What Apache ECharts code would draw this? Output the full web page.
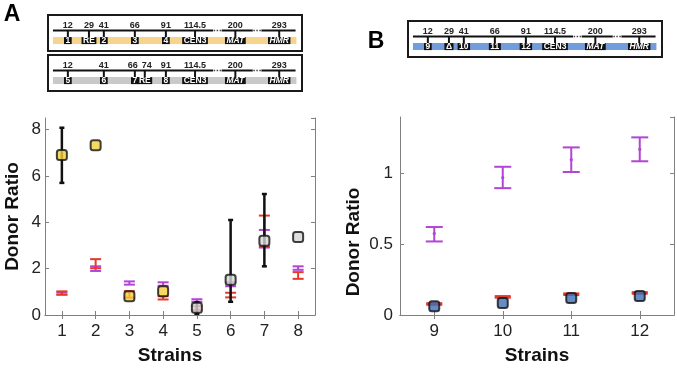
<!DOCTYPE html>
<html>
<head>
<meta charset="utf-8">
<style>
html,body{margin:0;padding:0;background:#fff}
#chart{width:677px;height:370px}
</style>
<script src="https://cdn.jsdelivr.net/npm/echarts@6/dist/echarts.min.js"></script>
</head>
<body>
<div id="chart"></div>
<script>
// ---- panel A data ----
var strainsA = ['1', '2', '3', '4', '5', '6', '7', '8'];
var boxMeanA = [6.9, 7.32, 0.81, 1.02, 0.31, 1.52, 3.2, 3.37];
var boxLowA = [5.7, 7.32, 0.81, 1.02, 0.05, 0.57, 2.1, 3.37];
var boxHighA = [8.08, 7.32, 0.81, 1.02, 0.55, 4.1, 5.22, 3.37];
var purpleMeanA = [0.93, 2.0, 1.38, 1.33, 0.62, 1.33, 3.29, 2.02];
var purpleLowA = [0.88, 1.9, 1.31, 1.26, 0.57, 1.24, 2.91, 1.95];
var purpleHighA = [0.98, 2.1, 1.45, 1.41, 0.68, 1.42, 3.67, 2.1];
var redMeanA = [0.95, 2.2, 0.88, 0.74, 0.3, 0.86, 3.6, 1.7];
var redLowA = [0.88, 2.02, 0.75, 0.67, 0.22, 0.76, 2.95, 1.56];
var redHighA = [1.02, 2.41, 1.03, 0.81, 0.38, 0.96, 4.29, 1.85];

// ---- panel B data ----
var strainsB = ['9', '10', '11', '12'];
var boxMeanB = [0.062, 0.085, 0.12, 0.135];
var purpleMeanB = [0.577, 0.972, 1.098, 1.172];
var purpleLowB = [0.52, 0.897, 1.011, 1.087];
var purpleHighB = [0.622, 1.048, 1.185, 1.256];
var redMeanB = [0.078, 0.128, 0.147, 0.156];
var redLowB = [0.074, 0.124, 0.143, 0.152];
var redHighB = [0.082, 0.132, 0.151, 0.16];

// ---- chromosome maps (kb) ----
var mapPosA1 = [12, 29, 41, 66, 91, 114.5, 200, 293];
var mapNameA1 = ['1', 'RE', '2', '3', '4', 'CEN3', 'MAT', 'HMR'];
var mapPosA2 = [12, 41, 66, 74, 91, 114.5, 200, 293];
var mapNameA2 = ['5', '6', '7', 'RE', '8', 'CEN3', 'MAT', 'HMR'];
var mapPosB = [12, 29, 41, 66, 91, 114.5, 200, 293];
var mapNameB = ['9', 'Δ', '10', '11', '12', 'CEN3', 'MAT', 'HMR'];

var FONT = '"Liberation Sans", Arial, sans-serif';
var RED = '#E5392C', PURPLE = '#B244D6';
var YELLOW = '#F3D03C', GREY = '#D6D6D6', BLUE = '#3F6FB5';

// the map axis is broken after the centromere
var BREAK_AT = 114.5;
function squeeze(kb) {
    return kb <= BREAK_AT ? kb : BREAK_AT + (kb - BREAK_AT) * 0.38;
}

function zip(idx, lo, hi, mid) {
    return idx.map(function (_, i) { return [i, lo[i], hi[i], mid[i]]; });
}

function errBar(color, capW, lineW, dot) {
    return function (params, api) {
        var x = api.value(0);
        var lo = api.coord([x, api.value(1)]);
        var hi = api.coord([x, api.value(2)]);
        var mid = api.coord([x, api.value(3)]);
        if (lo[1] - hi[1] < 0.5) return null;
        var st = { stroke: color, lineWidth: lineW };
        var kids = [
            { type: 'line', shape: { x1: lo[0], y1: lo[1], x2: hi[0], y2: hi[1] }, style: st },
            { type: 'line', shape: { x1: lo[0] - capW / 2, y1: lo[1], x2: lo[0] + capW / 2, y2: lo[1] }, style: st },
            { type: 'line', shape: { x1: hi[0] - capW / 2, y1: hi[1], x2: hi[0] + capW / 2, y2: hi[1] }, style: st }
        ];
        if (dot) kids.push({ type: 'circle', shape: { cx: mid[0], cy: mid[1], r: 1.6 }, style: { fill: color } });
        return { type: 'group', children: kids };
    };
}

function renderTrack(color) {
    return function (params, api) {
        var p = function (x, y) { return api.coord([x, y]); };
        var a = p(0, 22), b = p(196.2, 29);
        var kids = [{ type: 'rect', shape: { x: a[0], y: a[1], width: b[0] - a[0], height: b[1] - a[1] }, style: { fill: color } }];
        [[0, 129], [136, 161], [168, 195.5]].forEach(function (s) {
            var u = p(s[0], 15.5), v = p(s[1], 15.5);
            kids.push({ type: 'line', shape: { x1: u[0], y1: u[1], x2: v[0], y2: v[1] }, style: { stroke: '#111', lineWidth: 2 } });
        });
        [[129.5, 136], [161.5, 168]].forEach(function (s) {
            var u = p(s[0], 15.5), v = p(s[1], 15.5);
            kids.push({ type: 'line', shape: { x1: u[0], y1: u[1], x2: v[0], y2: v[1] }, style: { stroke: '#444', lineWidth: 1.5, lineDash: [1.5, 1.5] } });
        });
        return { type: 'group', children: kids };
    };
}

// crude width of a bold 9px number label
function numWidth(v) { return String(v).length * 5; }

function renderMarkers(pos, names) {
    return function (params, api) {
        var i = params.dataIndex, x = api.value(0);
        var t0 = api.coord([x, 15.5]), t1 = api.coord([x, 22.5]);
        var num = api.coord([x, 10.2]), lab = api.coord([x, 25.6]);
        // push number labels apart when two kb marks sit too close
        var shift = 0;
        [i - 1, i + 1].forEach(function (j) {
            if (j < 0 || j >= pos.length) return;
            var pj = api.coord([squeeze(pos[j]), 10.2]);
            var need = (numWidth(pos[i]) + numWidth(pos[j])) / 2 + 4 - Math.abs(pj[0] - num[0]);
            if (need > 0) shift += (j < i ? 1 : -1) * need / 2;
        });
        var ital = names[i] === 'MAT' || names[i] === 'HMR';
        return {
            type: 'group', children: [
                { type: 'line', shape: { x1: t0[0], y1: t0[1], x2: t1[0], y2: t1[1] }, style: { stroke: '#111', lineWidth: 2 } },
                { type: 'text', x: num[0] + shift, y: num[1], style: { text: String(pos[i]), font: 'bold 9px ' + FONT, fill: '#222', align: 'center', verticalAlign: 'middle' } },
                { type: 'text', x: lab[0], y: lab[1], style: {
                    text: names[i], font: (ital ? 'italic ' : '') + 'bold 8.5px ' + FONT, fill: '#fff',
                    align: 'center', verticalAlign: 'middle', backgroundColor: '#111', padding: [0, 1.5, 0, 1.5], lineHeight: 7
                } }
            ]
        };
    };
}

function mapSeries(idx, pos, names, color) {
    return [
        { type: 'custom', xAxisIndex: idx, yAxisIndex: idx, data: [[0, 0]], renderItem: renderTrack(color), silent: true },
        { type: 'custom', xAxisIndex: idx, yAxisIndex: idx, data: pos.map(function (k) { return [squeeze(k), 0]; }), renderItem: renderMarkers(pos, names), silent: true }
    ];
}

var frameLine = { show: true, lineStyle: { color: '#808080', width: 1 } };
var frameTick = { show: true, inside: true, length: 4, lineStyle: { color: '#808080' } };
var nameStyle = { fontFamily: FONT, fontWeight: 'bold', fontSize: 19, color: '#111' };

function catAxes(grid, cats, namePad) {
    return [
        { type: 'category', gridIndex: grid, data: cats, boundaryGap: true, position: 'bottom',
          axisLine: frameLine, axisTick: Object.assign({ alignWithLabel: true }, frameTick),
          axisLabel: { fontFamily: FONT, fontSize: 17, color: '#222', margin: 8 },
          name: 'Strains', nameLocation: 'middle', nameGap: 31, nameTextStyle: Object.assign({ padding: namePad }, nameStyle) },
        { type: 'category', gridIndex: grid, data: cats, boundaryGap: true, position: 'top',
          axisLine: frameLine, axisTick: Object.assign({ alignWithLabel: true }, frameTick), axisLabel: { show: false } }
    ];
}

function valAxes(grid, max, step, margin, gap, namePad) {
    return [
        { type: 'value', gridIndex: grid, min: 0, max: max, interval: step, position: 'left',
          axisLine: frameLine, axisTick: frameTick, splitLine: { show: false },
          axisLabel: { fontFamily: FONT, fontSize: 17, color: '#222', margin: margin, showMaxLabel: false },
          name: 'Donor Ratio', nameLocation: 'middle', nameGap: gap, nameTextStyle: Object.assign({ padding: namePad }, nameStyle) },
        { type: 'value', gridIndex: grid, min: 0, max: max, interval: step, position: 'right',
          axisLine: frameLine, axisTick: frameTick, splitLine: { show: false }, axisLabel: { show: false } }
    ];
}

function mapAxes(grid) {
    return {
        x: { type: 'value', gridIndex: grid, min: -4, max: 200.7, show: false },
        y: { type: 'value', gridIndex: grid, min: 0, max: 36, inverse: true, show: false }
    };
}

var xAxes = catAxes(0, strainsA, [0, 20, 0, 0]).concat(catAxes(1, strainsB, [0, 0, 0, 0]));
var yAxes = valAxes(0, 8.5, 2, 4, 23, [0, 0, 0, 0]).concat(valAxes(1, 1.4, 0.5, 7, 37, [0, 52, 0, 0]));
[2, 3, 4].forEach(function (g) { var m = mapAxes(g); xAxes.push(m.x); yAxes.push(m.y); });

var mapBox = { show: true, borderColor: '#1a1a1a', borderWidth: 2, backgroundColor: '#fff' };

var chart = echarts.init(document.getElementById('chart'), null, { renderer: 'canvas' });
chart.setOption({
    animation: false,
    backgroundColor: '#fff',
    textStyle: { fontFamily: FONT },
    grid: [
        { left: 45, top: 118, width: 270, height: 200 },
        { left: 400, top: 117, width: 274, height: 204 },
        Object.assign({ left: 48, top: 15, width: 254, height: 36 }, mapBox),
        Object.assign({ left: 48, top: 55, width: 254, height: 36 }, mapBox),
        Object.assign({ left: 408, top: 21, width: 254, height: 36 }, mapBox)
    ],
    xAxis: xAxes,
    yAxis: yAxes,
    graphic: [
        { type: 'text', x: 12, y: 15, style: { text: 'A', font: 'bold 23px ' + FONT, fill: '#000', align: 'center', verticalAlign: 'middle' } },
        { type: 'text', x: 376, y: 42, style: { text: 'B', font: 'bold 23px ' + FONT, fill: '#000', align: 'center', verticalAlign: 'middle' } }
    ],
    series: [
        { type: 'custom', xAxisIndex: 0, yAxisIndex: 0, data: zip(strainsA, purpleLowA, purpleHighA, purpleMeanA), renderItem: errBar(PURPLE, 11, 2, false), z: 2 },
        { type: 'custom', xAxisIndex: 0, yAxisIndex: 0, data: zip(strainsA, redLowA, redHighA, redMeanA), renderItem: errBar(RED, 11, 2, false), z: 3 },
        { type: 'custom', xAxisIndex: 0, yAxisIndex: 0, data: zip(strainsA, boxLowA, boxHighA, boxMeanA), renderItem: errBar('#111', 5, 2.5, false), z: 4 },
        { type: 'scatter', xAxisIndex: 0, yAxisIndex: 0, z: 5, symbol: 'roundRect', symbolSize: 10,
          data: boxMeanA.map(function (v, i) {
              return { value: [i, v], itemStyle: { color: i < 4 ? YELLOW : GREY } };
          }),
          itemStyle: { borderColor: '#111', borderWidth: 2 } },

        { type: 'custom', xAxisIndex: 2, yAxisIndex: 2, data: zip(strainsB, purpleLowB, purpleHighB, purpleMeanB), renderItem: errBar(PURPLE, 17, 2, true), z: 2 },
        { type: 'custom', xAxisIndex: 2, yAxisIndex: 2, data: zip(strainsB, redLowB, redHighB, redMeanB), renderItem: errBar(RED, 16, 2.5, false), z: 3 },
        { type: 'scatter', xAxisIndex: 2, yAxisIndex: 2, z: 5, symbol: 'roundRect', symbolSize: 10,
          data: boxMeanB.map(function (v, i) { return [i, v]; }),
          itemStyle: { color: BLUE, borderColor: '#111', borderWidth: 2 } }
    ]
        .concat(mapSeries(4, mapPosA1, mapNameA1, '#F6D48E'))
        .concat(mapSeries(5, mapPosA2, mapNameA2, '#C9C9C9'))
        .concat(mapSeries(6, mapPosB, mapNameB, '#729DDC'))
});
</script>
</body>
</html>
